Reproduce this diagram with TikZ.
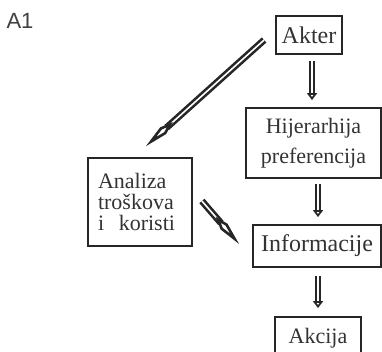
\documentclass[tikz,border=0pt]{standalone}
\usepackage{fontspec}
\setmainfont{Liberation Serif}
\setsansfont{Liberation Sans}
\usetikzlibrary{arrows.meta}

\begin{document}
\begin{tikzpicture}[x=1pt,y=-1pt,
	box/.style={draw=black!85,line width=1.8pt,inner sep=0pt,align=center,text=black!80,font=\fontsize{22}{22}\selectfont},
	flow/.style={draw=black!85,double=white,line width=2pt,double distance=2.2pt,-{Triangle[open,length=7pt,width=10pt]}},
	nib/.style={draw=black!85,double=white,line width=2.6pt,double distance=1.6pt,-{Kite[open,length=36pt,width=9pt,inset=13pt]}}]
	\clip (0,0) rectangle (382,352);

	% Nodes start here
	\node (label) at (20,21) [font=\sffamily\fontsize{22}{22}\selectfont,text=black!75] {A1};
	\node (akter) at (309,35) [box,minimum width=66pt,minimum height=38pt,font=\fontsize{24}{24}\selectfont] {Akter};
	\node (hijer) at (313.5,143) [box,minimum width=135pt,minimum height=70pt,font=\fontsize{22}{30}\selectfont] {Hijerarhija\\preferencija};
	\node (analiza) at (140,202) [box,minimum width=104pt,minimum height=88pt,align=left,text width=84pt,font=\fontsize{22}{21}\selectfont] {Analiza\\troškova\\i\ \ koristi};
	\node (info) at (317,246) [box,minimum width=128pt,minimum height=42pt,font=\fontsize{24}{24}\selectfont] {Informacije};
	\node (akcija) at (318,338) [box,minimum width=86pt,minimum height=42pt] {Akcija};

	% Lines start here
	\draw[flow] ([shift={(3,6)}]akter.south) to ([shift={(-1.5,-7)}]hijer.north);
	\draw[flow] ([shift={(4.5,5)}]hijer.south) to ([shift={(1,-7)}]info.north);
	\draw[flow] ([shift={(1,8)}]info.south) to ([shift={(0,-8)}]akcija.north);
	\draw[nib] ([shift={(-11,5)}]akter.west) to ([shift={(6,-11)}]analiza.north);
	\draw[nib] ([shift={(9,-1)}]analiza.east) to ([shift={(-13,-2)}]info.west);

\end{tikzpicture}
\end{document}
